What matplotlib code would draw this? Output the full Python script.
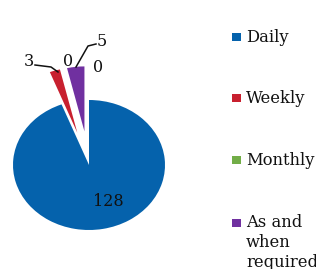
import matplotlib
matplotlib.use("Agg")
import matplotlib.pyplot as plt
from matplotlib.patches import Rectangle

categories = ["Daily", "Weekly", "Monthly", "As and\nwhen\nrequired", "Other"]
values = [128, 3, 0, 5, 0]
colors = ["#0562AC", "#C8202F", "#72AD47", "#7030A0", "#9E9E9E"]
explode = [0, 0.52, 0.52, 0.52, 0.52]

W, H = 316, 269
fig = plt.figure(figsize=(W / 100, H / 100), dpi=100)
ax = fig.add_axes([0, 0, 1, 1])

# pixel geometry of the pie ellipse
cx, cy, rx, ry = 89, 165, 76, 65
x0 = -cx / rx
x1 = x0 + W / rx
ytop = cy / ry
ybot = ytop - H / ry


def px(x, y):
    return ((x - cx) / rx, (cy - y) / ry)


wedges, _ = ax.pie(values, colors=colors, explode=explode, startangle=90,
                   counterclock=False, radius=1.0,
                   wedgeprops=dict(linewidth=0, clip_on=False))
ax.set_aspect("auto")
ax.set_xlim(x0, x1)
ax.set_ylim(ybot, ytop)
ax.axis("off")

font = dict(family="DejaVu Serif", fontsize=11.5, color="#111111")

# data labels
label_px = [(108, 202), (29, 62), (68, 62), (102, 42), (98, 68)]
for v, (lx, ly) in zip(values, label_px):
    ax.text(*px(lx, ly), str(v), ha="center", va="center", **font)

# leader lines
for pts in ([(35, 65), (51, 67), (58, 72)], [(96, 44), (88, 46), (76, 67)]):
    xs, ys = zip(*[px(a, b) for a, b in pts])
    ax.plot(xs, ys, color="#111111", lw=1.1, clip_on=False)

# legend (first-line baselines)
legend_base = [42, 103, 165, 228]
pitch = 19.5
for cat, col, base in zip(categories[:4], colors[:4], legend_base):
    fig.patches.append(Rectangle((232 / W, 1 - (base - 1) / H), 9 / W, 8 / H,
                                 transform=fig.transFigure, color=col,
                                 linewidth=0))
    nlines = cat.count("\n")
    fig.text(246 / W, 1 - (base + nlines * pitch) / H, cat, ha="left",
             va="baseline", linespacing=1.22, fontsize=11.8,
             family="DejaVu Serif", color="#111111")

fig.savefig("out.png", dpi=100)
